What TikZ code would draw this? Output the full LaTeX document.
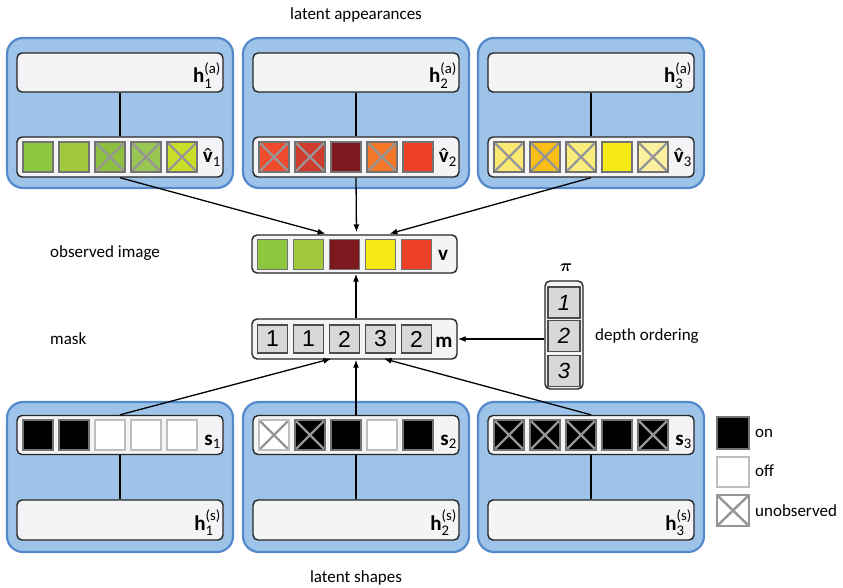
\documentclass[tikz,border=0pt]{standalone}
\usepackage{fontspec}
\usepackage{amsmath}
\setmainfont{Carlito}
\newfontfamily\digitfont{Liberation Sans}
\usetikzlibrary{arrows.meta}

% palette
\definecolor{panelfill}{RGB}{157,195,232}
\definecolor{paneledge}{RGB}{84,138,204}
\definecolor{boxfill}{RGB}{244,243,245}
\definecolor{xgray}{RGB}{150,150,150}
\definecolor{edgegray}{RGB}{115,115,115}
\definecolor{offedge}{RGB}{190,190,190}
\definecolor{maskgray}{RGB}{216,216,216}
% appearance colours
\definecolor{ga}{RGB}{141,198,63}
\definecolor{gb}{RGB}{160,202,60}
\definecolor{gc}{RGB}{140,192,62}
\definecolor{gd}{RGB}{152,198,82}
\definecolor{ge}{RGB}{200,222,40}
\definecolor{ra}{RGB}{240,75,45}
\definecolor{rb}{RGB}{205,60,45}
\definecolor{rc}{RGB}{125,25,30}
\definecolor{rd}{RGB}{245,120,40}
\definecolor{re}{RGB}{236,65,40}
\definecolor{ya}{RGB}{250,232,115}
\definecolor{yb}{RGB}{250,190,25}
\definecolor{yc}{RGB}{250,236,125}
\definecolor{yd}{RGB}{245,232,20}
\definecolor{ye}{RGB}{250,240,160}

\tikzset{
  panel/.style={draw=paneledge, fill=panelfill, line width=2.2pt, rounded corners=16pt,
    minimum width=226pt, minimum height=150pt, inner sep=0pt},
  inbox/.style={draw=black!85, fill=boxfill, line width=1.4pt, rounded corners=5pt,
    minimum width=206pt, minimum height=39pt, inner sep=0pt},
  cellbox/.style={draw=edgegray, line width=1.1pt, minimum width=30pt, minimum height=30pt, inner sep=0pt},
  obs/.style={},
  unobs/.style={path picture={\draw[xgray, line width=2.4pt]
      (path picture bounding box.south west) -- (path picture bounding box.north east)
      (path picture bounding box.north west) -- (path picture bounding box.south east);}},
  on/.style={fill=black},
  off/.style={fill=white, draw=offedge},
  maskcell/.style={draw=black!70, fill=maskgray, line width=1.1pt, minimum width=30pt,
    minimum height=28pt, inner sep=0pt, font=\digitfont\fontsize{23}{25}\selectfont},
  arr/.style={-{Latex[length=8pt,width=6pt]}, line width=1.3pt},
  link/.style={line width=1.3pt},
  lbl/.style={font=\fontsize{17}{20}\selectfont, inner sep=0pt},
  var/.style={font=\fontsize{21}{24}\selectfont, inner sep=0pt},
}

\begin{document}
\begin{tikzpicture}[x=1pt, y=-1pt]
\useasboundingbox (0,0) rectangle (843,588);

% ---------- latent appearances ----------
\node[lbl, anchor=base] (tapp) at (356,20) {latent appearances};

\foreach \k/\L in {1/7, 2/243, 3/478} {
  \node[panel] (pa\k) at (\L+113,113) {};
  \node[inbox] (ha\k) at (\L+113,72.5) {};
  \node[var, anchor=base east] (hal\k) at (\L+214,83) {$\textbf{h}^{\text{(a)}}_{\text{\k}}$};
  \node[inbox, minimum height=40pt] (vh\k) at (\L+113,157) {};
  \node[var, anchor=base east] (vhl\k) at (\L+214,163) {$\boldsymbol{\hat{\textbf{v}}}_{\text{\k}}$};
  \draw[link] (ha\k) -- (vh\k);
}
\foreach \c/\s [count=\i] in {ga/obs, gb/obs, gc/unobs, gd/unobs, ge/unobs}
  \node[cellbox, fill=\c, \s] (vha\i) at (7+31+36*\i-36,157) {};
\foreach \c/\s [count=\i] in {ra/unobs, rb/unobs, rc/obs, rd/unobs, re/obs}
  \node[cellbox, fill=\c, \s] (vhb\i) at (243+31+36*\i-36,157) {};
\foreach \c/\s [count=\i] in {ya/unobs, yb/unobs, yc/unobs, yd/obs, ye/unobs}
  \node[cellbox, fill=\c, \s] (vhc\i) at (478+31+36*\i-36,157) {};

% ---------- observed image ----------
\node[lbl, anchor=base west] (tobs) at (50,257) {observed image};
\node[inbox, minimum width=205pt, minimum height=38pt] (v) at (354.5,254) {};
\foreach \c [count=\i] in {ga, gb, rc, yd, re}
  \node[cellbox, fill=\c] (vc\i) at (272.5+36*\i-36,254.5) {};
\node[var, anchor=base] (vl) at (443,260) {\textbf{v}};

% ---------- mask ----------
\node[lbl, anchor=base west] (tmask) at (50,344) {mask};
\node[inbox, minimum width=205pt, minimum height=40pt] (m) at (354.5,339) {};
\foreach \d [count=\i] in {1, 1, 2, 3, 2}
  \node[maskcell] (mc\i) at (272.5+36*\i-36,339) {\d};
\node[var, anchor=base] (ml) at (444,347) {\textbf{m}};

% ---------- depth ordering ----------
\node[draw=black!85, fill=boxfill, line width=1.4pt, rounded corners=5pt,
      minimum width=38pt, minimum height=108pt, inner sep=0pt] (pi) at (564,335) {};
\foreach \d/\y [count=\i] in {1/302.5, 2/336, 3/371}
  \node[maskcell, minimum width=32pt, minimum height=31pt,
        font=\digitfont\itshape\fontsize{22}{24}\selectfont] (pc\i) at (564,\y) {\d};
\node[inner sep=0pt, font=\fontsize{19}{22}\selectfont] (pil) at (566,268) {$\boldsymbol{\pi}$};
\node[lbl, anchor=base west] (tdepth) at (595,340) {depth ordering};

% ---------- latent shapes ----------
\foreach \k/\L in {1/7, 2/243, 3/478} {
  \node[panel] (ps\k) at (\L+113,477) {};
  \node[inbox] (sr\k) at (\L+113,435) {};
  \node[var, anchor=base east] (srl\k) at (\L+214,445) {$\textbf{s}_{\text{\k}}$};
  \node[inbox, minimum height=40pt] (hs\k) at (\L+113,520) {};
  \node[var, anchor=base east] (hsl\k) at (\L+214,530) {$\textbf{h}^{\text{(s)}}_{\text{\k}}$};
  \draw[link] (sr\k) -- (hs\k);
}
\foreach \c/\s [count=\i] in {on/obs, on/obs, off/obs, off/obs, off/obs}
  \node[cellbox, \c, \s] (sa\i) at (7+31+36*\i-36,435) {};
\foreach \c/\s [count=\i] in {off/unobs, on/unobs, on/obs, off/obs, on/obs}
  \node[cellbox, \c, \s] (sb\i) at (243+31+36*\i-36,435) {};
\foreach \c/\s [count=\i] in {on/unobs, on/unobs, on/unobs, on/obs, on/unobs}
  \node[cellbox, \c, \s] (sc\i) at (478+31+36*\i-36,435) {};
\node[lbl, anchor=base] (tshape) at (356,582) {latent shapes};

% ---------- connectors ----------
\draw[arr, shorten >=2pt] (vh1.south) -- ([xshift=-27pt]v.north);
\draw[arr, shorten >=2pt] (vh2.south) -- ([xshift=2pt]v.north);
\draw[arr, shorten >=2pt] (vh3.south) -- ([xshift=33pt]v.north);
\draw[arr] (m.north -| vh2.south) -- (v.south -| vh2.south);
\draw[arr, shorten >=-4pt] (sr1.north) -- ([xshift=-27pt]m.south);
\draw[arr] (sr2.north) -- (m.south -| sr2.north);
\draw[arr, shorten >=-4pt] (sr3.north) -- ([xshift=33pt]m.south);
\draw[arr] (pi.west |- m.east) -- (m.east);

% ---------- legend ----------
\node[cellbox, on, minimum width=32pt, minimum height=32pt] (kon) at (733,433) {};
\node[lbl, anchor=base west] (ton) at (755,437) {on};
\node[cellbox, off, minimum width=32pt, minimum height=30pt] (koff) at (733,472) {};
\node[lbl, anchor=base west] (toff) at (755,476) {off};
\node[cellbox, fill=white, draw=xgray, unobs, minimum width=32pt, minimum height=31pt] (kun) at (733,510.5) {};
\node[lbl, anchor=base west] (tun) at (755,516) {unobserved};
\end{tikzpicture}
\end{document}
